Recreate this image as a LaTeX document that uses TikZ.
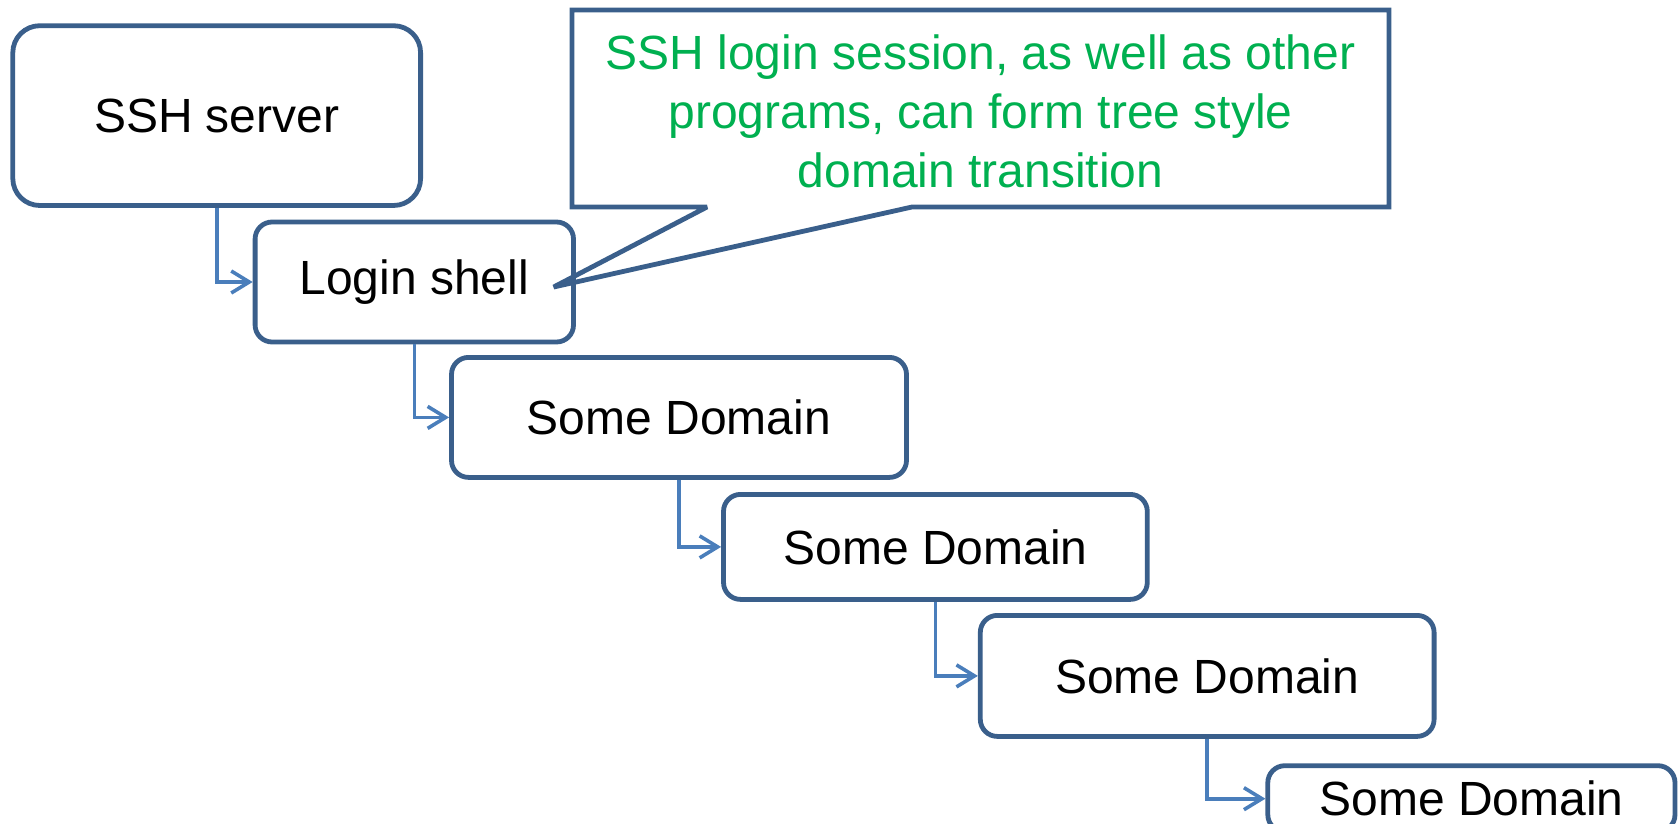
\documentclass[tikz,border=0pt]{standalone}
\usepackage{fontspec}
\setmainfont{Liberation Sans}
\usetikzlibrary{arrows.meta}
\definecolor{boxblue}{HTML}{3A5F8B}
\definecolor{arrblue}{HTML}{4A7EBB}
\definecolor{callgreen}{HTML}{00B050}
\begin{document}
\begin{tikzpicture}[x=0.5pt,y=-0.5pt,
  dom/.style={draw=boxblue, line width=2.4pt, rounded corners=8.5pt, fill=white,
    font=\fontsize{24}{29}\selectfont, inner sep=0pt},
  conn/.style={draw=arrblue, line width=1.8pt,
    -{Straight Barb[length=9pt,width=11pt,line width=1.8pt]}},
  callout/.style={draw=boxblue, line width=2.4pt, miter limit=3},
  notetext/.style={text=callgreen, align=center, font=\fontsize{24}{29.5}\selectfont}]
\useasboundingbox (0,0) rectangle (1678,824);
\clip (0,0) rectangle (1678,824);

\node[dom, rounded corners=13.5pt, minimum width=203.9pt, minimum height=89.9pt] (ssh) at (216.7,115.6) {\raisebox{-1.5pt}{SSH server}};
\node[dom, minimum width=159.2pt, minimum height=60pt] (login) at (414.3,282) {\raisebox{-1pt}{Login shell}};
\node[dom, minimum width=227.5pt, minimum height=60pt] (d1) at (679,417.4) {\raisebox{-1pt}{Some Domain}};
\node[dom, minimum width=211.9pt, minimum height=52.5pt] (d2) at (935.4,546.9) {Some Domain};
\node[dom, minimum width=226.9pt, minimum height=60.5pt] (d3) at (1207.2,675.9) {Some Domain};
\node[dom, minimum width=203.6pt, minimum height=33pt] (d4) at (1471.4,798.7) {Some Domain};

\draw[conn] (ssh.south) |- (login.west);
\draw[conn] (login.south) |- (d1.west);
\draw[conn] (d1.south) |- (d2.west);
\draw[conn] (d2.south) |- (d3.west);
\draw[conn] (d3.south) |- (d4.west);

\coordinate (tip) at (553.7,287);
\coordinate (cTL) at (572,10);
\coordinate (cBR) at (1389,207);
\draw[callout] (cTL) -- (cTL -| cBR) -- (cBR) -- (912,207) -- (tip) -- (707,207) -- (cTL |- cBR) -- cycle;
\node[notetext] (note) at (980.5,111) {SSH login session, as well as other\\programs, can form tree style\\domain transition};
\end{tikzpicture}
\end{document}
